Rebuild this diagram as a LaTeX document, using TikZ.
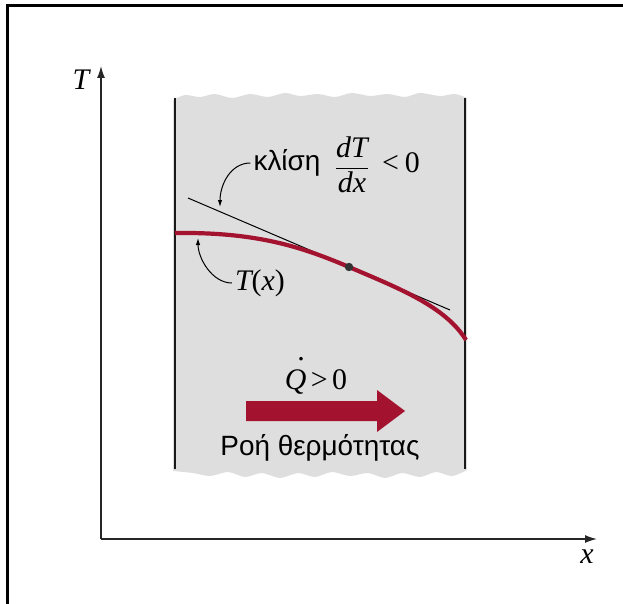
\documentclass[tikz,border=0pt]{standalone}
\usepackage{amsmath}
\usepackage{fontspec}
\setmainfont{Liberation Sans}
\newfontfamily\tms{Liberation Serif}
\usetikzlibrary{arrows.meta}
\definecolor{heatred}{HTML}{A3122E}
\definecolor{slabgray}{HTML}{DEDEDE}
\begin{document}
\begin{tikzpicture}[x=1bp,y=-1bp,
  lbl/.style={inner sep=2bp,font=\fontsize{28}{32}\selectfont},
  serlbl/.style={inner sep=2bp,font=\fontsize{30}{34}\selectfont\tms},
  axisline/.style={line width=1.4bp,draw=black!85,-{Latex[length=12bp,width=8bp]}},
  annot/.style={line width=1bp,-{Latex[length=7bp,width=4.5bp]}},
  walls/.style={line width=1.3bp,draw=black!90}]
\useasboundingbox (0,0) rectangle (623,604);
% outer frame (left and top)
\draw[line width=3bp] (7,606) -- (7,6) -- (625,6);
% slab
\fill[slabgray] plot[smooth] coordinates {(173,100) (185,95) (200,97) (215,94) (232,98) (250,94) (268,97) (285,93) (300,96) (318,94) (335,97) (352,93) (370,96) (388,94) (405,97) (420,93) (440,96) (455,94) (467,98)}
  -- plot[smooth] coordinates {(467,470) (452,476) (436,472) (420,477) (402,473) (385,478) (368,473) (350,476) (332,472) (315,477) (298,473) (280,478) (262,473) (245,477) (228,472) (210,476) (193,473) (173,471)} -- cycle;
\coordinate (wlt) at (175,98);
\coordinate (wlb) at (175,469);
\coordinate (wrt) at (465,98);
\coordinate (wrb) at (465,469);
\draw[walls] (wlt) -- (wlb);
\draw[walls] (wrt) -- (wrb);
% axes
\coordinate (O) at (101,539);
\coordinate (Ttip) at (101,66);
\coordinate (xtip) at (597,539);
\draw[axisline] (O) -- (Ttip);
\draw[axisline] (O) -- (xtip);
\node[serlbl] (Tlab) at (81,80) {\itshape T};
\node[serlbl] (xlab) at (587,557) {\itshape x};
% tangent line
\coordinate (tA) at (188,198);
\coordinate (tB) at (450,310);
\draw[line width=1bp] (tA) -- (tB);
% temperature profile
\coordinate (c0) at (175,233);
\coordinate (P) at (349,267);
\coordinate (c1) at (466,340);
\draw[heatred,line width=4.2bp] (c0) .. controls (255,232) and (300,246) .. (P)
  .. controls (398,288) and (445,306) .. (c1);
\fill[black!80] (P) circle (4.2bp);
% labels
\node[lbl] (klisi) at (287,163) {κλίση};
\node[serlbl] (frac) at (352,165) {$\dfrac{\hbox{\itshape dT}}{\hbox{\itshape dx}}$};
\node[serlbl] (lt) at (401,163) {<\kern0.2em0};
\node[serlbl] (Tx) at (260,283) {\itshape T\upshape(\itshape x\upshape)};
\coordinate (tanpt) at (220,207);
\coordinate (curvpt) at (198,238);
\draw[annot] ([xshift=-1bp]klisi.west) .. controls +(-20,0) and +(0,-22) .. (tanpt);
\draw[annot] ([xshift=-1bp]Tx.west) .. controls +(-20,0) and +(0,20) .. (curvpt);
% heat flow
\node[serlbl] (Q) at (316,376) {\rlap{\hspace{0.42em}\raisebox{0.95em}{.}}\itshape Q\upshape\kern0.15em>\kern0.15em0};
\fill[heatred] (246,401) -- (377,401) -- (377,390) -- (405,411) -- (377,432) -- (377,421) -- (246,421) -- cycle;
\node[lbl] (flow) at (320,448) {Ροή θερμότητας};
\end{tikzpicture}
\end{document}
